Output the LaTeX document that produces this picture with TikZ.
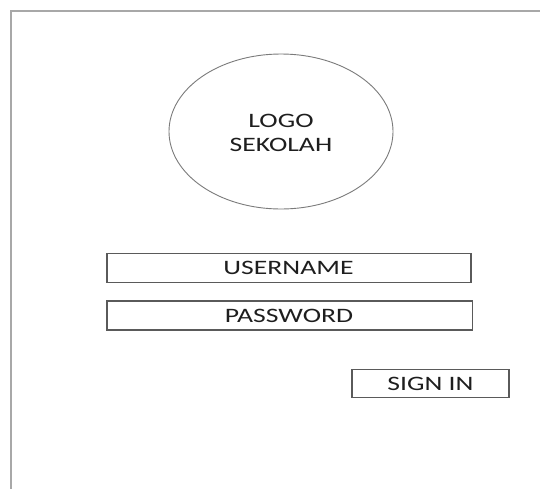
\documentclass[tikz,border=0pt]{standalone}
\usepackage{fontspec}
\setmainfont{Carlito}
\usepackage{graphicx}
\definecolor{framegray}{HTML}{A8A8A8}
\definecolor{boxgray}{HTML}{5A5A5A}
\definecolor{txtgray}{HTML}{1E1E1E}
\begin{document}
\begin{tikzpicture}[x=1pt,y=-1pt,
  lbl/.style={font=\fontsize{20.5}{22}\selectfont, text=txtgray},
  field/.style={draw=boxgray, line width=1.3pt, inner sep=0pt}]
\useasboundingbox (0,0) rectangle (540,488);
\fill[white] (0,0) rectangle (540,488);
\begin{scope}
\clip (0,0) rectangle (540,488);
\draw[framegray, line width=2.2pt] (11,11) rectangle (560,510);
\end{scope}
% logo ellipse
\draw[boxgray!80, line width=0.9pt] (281,131.5) ellipse [x radius=112, y radius=77.5];
\node[lbl, align=center] (logo) at (281,133) {\scalebox{1.35}[1]{LOGO}\\[2pt]\scalebox{1.35}[1]{SEKOLAH}};
% fields
\draw[field] (107,253.5) rectangle (471,282.5);
\node[lbl] (user) at (288.5,268) {\scalebox{1.35}[1]{USERNAME}};
\draw[field] (107,301) rectangle (472.5,330);
\node[lbl] (pass) at (289,315.5) {\scalebox{1.35}[1]{PASSWORD}};
\draw[field] (352,369.5) rectangle (509,397.5);
\node[lbl] (sign) at (430.5,383.5) {\scalebox{1.35}[1]{SIGN IN}};
\end{tikzpicture}
\end{document}
